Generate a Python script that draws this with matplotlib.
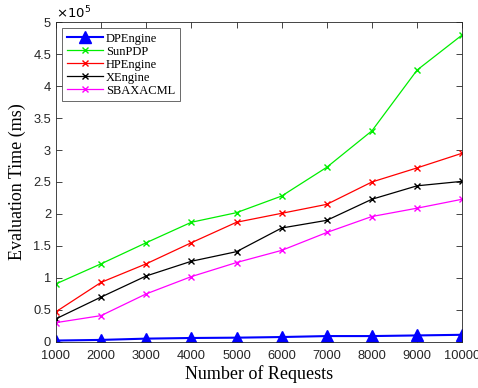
import matplotlib
matplotlib.use("Agg")
import matplotlib.pyplot as plt
import numpy as np

requests = [1000, 2000, 3000, 4000, 5000, 6000, 7000, 8000, 9000, 10000]
dpengine = [0.02, 0.03, 0.05, 0.06, 0.065, 0.075, 0.09, 0.09, 0.10, 0.11]
sunpdp = [0.906, 1.22, 1.55, 1.87, 2.02, 2.28, 2.73, 3.30, 4.25, 4.80]
hpengine = [0.47, 0.93, 1.22, 1.55, 1.87, 2.01, 2.15, 2.50, 2.72, 2.95]
xengine = [0.36, 0.70, 1.03, 1.26, 1.41, 1.78, 1.90, 2.23, 2.44, 2.51]
sbaxacml = [0.30, 0.41, 0.75, 1.02, 1.24, 1.43, 1.71, 1.96, 2.09, 2.23]
yticks = [0, 0.5, 1, 1.5, 2, 2.5, 3, 3.5, 4, 4.5, 5]

fig = plt.figure(figsize=(4.78, 3.88), dpi=100)
ax = fig.add_axes([0.117, 0.119, 0.850, 0.824])

serif = "Liberation Serif"
sans = "Liberation Sans"

ax.plot(requests, dpengine, color="blue", lw=1.5, marker="^", ms=8, label="DPEngine")
ax.plot(requests, sunpdp, color="#00ee00", lw=0.9, marker="x", ms=5, label="SunPDP")
ax.plot(requests, hpengine, color="red", lw=0.9, marker="x", ms=5, label="HPEngine")
ax.plot(requests, xengine, color="black", lw=0.9, marker="x", ms=5, label="XEngine")
ax.plot(requests, sbaxacml, color="magenta", lw=0.9, marker="x", ms=5, label="SBAXACML")

ax.set_xlim(1000, 10000)
ax.set_ylim(0, 5)
ax.set_xticks(requests)
ax.set_yticks(yticks)
ax.set_yticklabels([("%g" % v) for v in yticks], fontname=sans, fontsize=9.3)
ax.set_xticklabels([str(v) for v in requests], fontname=sans, fontsize=9.3)
ax.tick_params(direction="in", top=True, right=True, length=4, width=0.6, colors="#262626")
ax.tick_params(axis="x", pad=6)
for s in ax.spines.values():
    s.set_linewidth(0.6)
    s.set_color("#262626")

ax.set_xlabel("Number of Requests", fontname=serif, fontsize=13, labelpad=2)
ax.set_ylabel("Evaluation Time (ms)", fontname=serif, fontsize=13, labelpad=5)
ax.text(0.0, 1.003, r"$\times10^{5}$", transform=ax.transAxes, fontname=sans, fontsize=9.5, ha="left", va="bottom")

leg = ax.legend(loc="upper left", prop={"family": serif, "size": 9}, frameon=True,
                fancybox=False, edgecolor="#262626", borderpad=0.35, labelspacing=0.08,
                handlelength=2.9, handletextpad=0.25, borderaxespad=0.5, numpoints=1)
leg.get_frame().set_linewidth(0.6)

fig.savefig("out.png", dpi=100)
